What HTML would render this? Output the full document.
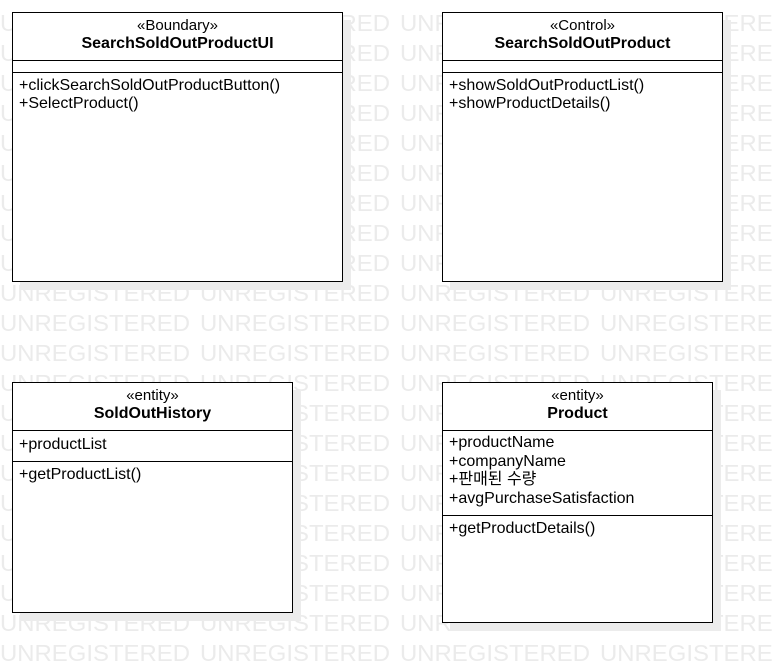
<!DOCTYPE html>
<html><head><meta charset="utf-8"><style>
body{margin:0;width:772px;height:672px;overflow:hidden;background:#fff;position:relative;font-family:"Liberation Sans","Noto Sans CJK KR",sans-serif}
svg.wm{position:absolute;left:0;top:0}
.box{position:absolute;background:#fff;border:1px solid #000;box-shadow:8px 8px 0 #ececec;box-sizing:border-box;font-size:16px;color:#000}
.hd{text-align:center;border-bottom:1px solid #000;box-sizing:border-box;padding-top:4px;line-height:18px}
.hd span{font-size:15px}
.hd b{font-size:16px}
.cp{border-bottom:1px solid #000;box-sizing:border-box;padding:3px 6px;line-height:18.5px}
.last{padding:4px 6px 0 6px;line-height:18px}
</style></head><body>
<svg class="wm" width="772" height="672" font-family="Liberation Sans, sans-serif" font-size="23" fill="#ebebeb">
</svg>
<script>
var s=document.querySelector('svg.wm'),h='';
for(var k=0;k<22;k++){for(var i=0;i<4;i++){h+='<text x="'+(i*200)+'" y="'+(31+30*k)+'" textLength="190" lengthAdjust="spacingAndGlyphs">UNREGISTERED</text>';}}
s.innerHTML=h;
</script>
<div class="box" style="left:12px;top:12px;width:331px;height:270px">
<div class="hd" style="height:48px"><span>«Boundary»</span><br><b>SearchSoldOutProductUI</b></div>
<div class="cp" style="height:12px;padding:0"></div>
<div class="last">+clickSearchSoldOutProductButton()<br>+SelectProduct()</div>
</div>
<div class="box" style="left:442px;top:12px;width:281px;height:270px">
<div class="hd" style="height:48px"><span>«Control»</span><br><b>SearchSoldOutProduct</b></div>
<div class="cp" style="height:12px;padding:0"></div>
<div class="last">+showSoldOutProductList()<br>+showProductDetails()</div>
</div>
<div class="box" style="left:12px;top:382px;width:281px;height:231px">
<div class="hd" style="height:48px"><span>«entity»</span><br><b>SoldOutHistory</b></div>
<div class="cp" style="height:31px;padding-top:5px">+productList</div>
<div class="last">+getProductList()</div>
</div>
<div class="box" style="left:442px;top:382px;width:271px;height:241px">
<div class="hd" style="height:48px"><span>«entity»</span><br><b>Product</b></div>
<div class="cp" style="height:85px;padding-top:3px">+productName<br>+companyName<br>+판매된 수량<br>+avgPurchaseSatisfaction</div>
<div class="last">+getProductDetails()</div>
</div>
</body></html>
